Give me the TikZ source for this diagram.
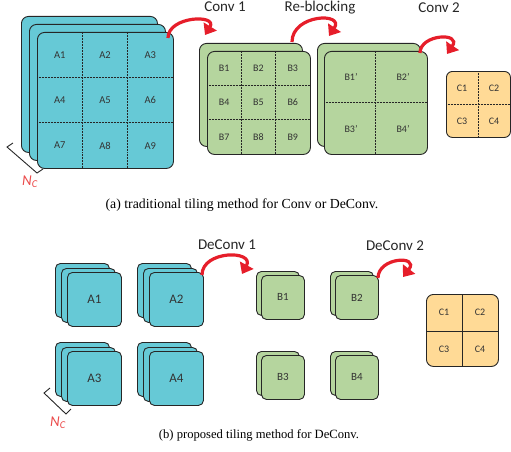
\documentclass[tikz,border=0pt]{standalone}
\usepackage{fontspec}
\setmainfont{Carlito}
\newfontfamily\capfont{Liberation Serif}
\usetikzlibrary{arrows.meta}
\definecolor{tealfill}{RGB}{102,201,214}
\definecolor{greenfill}{RGB}{181,213,158}
\definecolor{orangefill}{RGB}{255,218,150}
\definecolor{arrowred}{RGB}{230,30,42}
\definecolor{ncred}{RGB}{235,75,75}

\begin{document}
\begin{tikzpicture}[x=1pt, y=-1pt,
  map/.style = {draw=black!85, line width=0.9pt, rounded corners=7pt, inner sep=0pt, anchor=north west},
  amap/.style = {map, fill=tealfill},
  bmap/.style = {map, fill=greenfill},
  cmap/.style = {map, fill=orangefill},
  grid/.style = {black!85, line width=0.6pt, dash pattern=on 0.8pt off 0.7pt},
  lbl/.style = {font=\fontsize{10}{12}\selectfont, text=black!80},
  op/.style = {font=\fontsize{15}{18}\selectfont, text=black!85, anchor=base},
  curve/.style = {arrowred, line width=3.2pt, -{Triangle[width=15pt,length=10pt]}},
  nc/.style = {font=\fontsize{15}{18}\selectfont\itshape, text=ncred},
  caption/.style = {font=\capfont\fontsize{13.8}{16}\selectfont, anchor=base}]
\useasboundingbox (0,0) rectangle (511,452);

% (a) traditional tiling
\node[amap, minimum width=136pt, minimum height=136pt] (a1) at (21,16) {};
\node[amap, minimum width=136pt, minimum height=136pt] (a2) at (29,24) {};
\node[amap, minimum width=136pt, minimum height=136pt] (a3) at (37,32) {};
\draw[grid] (82.3,32) -- (82.3,168) (127.7,32) -- (127.7,168)
            (37,77.3) -- (173,77.3) (37,122.7) -- (173,122.7);
\foreach \n [count=\i from 0] in {A1,A2,A3,A4,A5,A6,A7,A8,A9}
  \node[lbl, font=\fontsize{10.5}{12}\selectfont] (lab\n) at ({59.7+45.3*mod(\i,3)}, {55+45.3*int(\i/3)}) {\n};

\node[bmap, minimum width=103pt, minimum height=103pt] (b1) at (199,43) {};
\node[bmap, minimum width=103pt, minimum height=103pt] (b2) at (207,51) {};
\draw[grid] (241.3,51) -- (241.3,154) (275.7,51) -- (275.7,154)
            (207,85.3) -- (310,85.3) (207,119.7) -- (310,119.7);
\foreach \n [count=\i from 0] in {B1,B2,B3,B4,B5,B6,B7,B8,B9}
  \node[lbl] (lab\n) at ({224.2+34.3*mod(\i,3)}, {68.2+34.3*int(\i/3)}) {\n};

\node[bmap, minimum width=103pt, minimum height=103pt] (r1) at (317,43) {};
\node[bmap, minimum width=103pt, minimum height=103pt] (r2) at (324,51) {};
\draw[grid] (375.5,51) -- (375.5,154) (324,102.5) -- (427,102.5);
\node[lbl] (labr1) at (351,77) {B1'};
\node[lbl] (labr2) at (403,77) {B2'};
\node[lbl] (labr3) at (351,129) {B3'};
\node[lbl] (labr4) at (403,129) {B4'};

\node[cmap, minimum width=64pt, minimum height=66pt, rounded corners=6pt] (c) at (446,71) {};
\draw[grid] (478.5,71) -- (478.5,137) (446,104) -- (510,104);
\node[lbl] (labc1) at (462,88) {C1};
\node[lbl] (labc2) at (494,88) {C2};
\node[lbl] (labc3) at (462,121) {C3};
\node[lbl] (labc4) at (494,121) {C4};

\coordinate (conv1from) at (168,38);
\coordinate (conv1to) at (205,35);
\coordinate (reblockfrom) at (292,42);
\coordinate (reblockto) at (329,36);
\coordinate (conv2from) at (420,53);
\coordinate (conv2to) at (447,54);
\draw[curve] (conv1from) .. controls (168,16) and (218,14) .. (conv1to);
\draw[curve] (reblockfrom) .. controls (292,14) and (345,12) .. (reblockto);
\draw[curve] (conv2from) .. controls (420,34) and (462,32) .. (conv2to);
\node[op] (conv1) at (225,12) {Conv 1};
\node[op] (reblock) at (320,12) {Re-blocking};
\node[op] (conv2) at (439,13) {Conv 2};

\draw[black!85, line width=0.9pt] (13,143) -- (7,147) -- (37,173) -- (43,169);
\node[nc] (nca) at (30,182) {N\textsubscript{C}};
\node[caption] (capa) at (242,208) {(a) traditional tiling method for Conv or DeConv.};

% (b) proposed tiling
\foreach \x/\y/\n in {55/263/A1, 137/263/A2, 55/342/A3, 137/342/A4} {
  \node[amap, minimum width=54pt, minimum height=54pt, rounded corners=5pt] (\n back) at (\x,\y) {};
  \node[amap, minimum width=54pt, minimum height=54pt, rounded corners=5pt] (\n mid) at (\x+6,\y+5) {};
  \node[amap, minimum width=54pt, minimum height=54pt, rounded corners=5pt] (\n front) at (\x+12,\y+9) {};
  \node[lbl, font=\fontsize{13}{15}\selectfont] (lab\n) at (\n front.center) {\n};
}
\foreach \x/\y/\n in {256/271/B1, 330/271/B2, 256/351/B3, 330/351/B4} {
  \node[bmap, minimum width=43pt, minimum height=44pt, rounded corners=5pt] (\n back) at (\x,\y) {};
  \node[bmap, minimum width=43pt, minimum height=44pt, rounded corners=5pt] (\n front) at (\x+5,\y+4) {};
  \node[lbl, font=\fontsize{11}{13}\selectfont] (lab\n) at (\n front.center) {\n};
}
\node[cmap, minimum width=72pt, minimum height=72pt] (cb) at (426,294) {};
\draw[black!85, line width=0.6pt] (462,294) -- (462,366) (426,331) -- (498,331);
\node[lbl] (labcb1) at (444,312) {C1};
\node[lbl] (labcb2) at (480,312) {C2};
\node[lbl] (labcb3) at (444,349) {C3};
\node[lbl] (labcb4) at (480,349) {C4};

\coordinate (deconv1from) at (202,275);
\coordinate (deconv1to) at (242,274);
\coordinate (deconv2from) at (378,278);
\coordinate (deconv2to) at (403,277);
\draw[curve] (deconv1from) .. controls (202,250) and (255,250) .. (deconv1to);
\draw[curve] (deconv2from) .. controls (378,257) and (420,255) .. (deconv2to);
\node[op] (deconv1) at (227,249) {DeConv 1};
\node[op] (deconv2) at (395,250) {DeConv 2};

\draw[black!85, line width=0.9pt] (50,388) -- (44,393) -- (66,414) -- (71,409);
\node[nc] (ncb) at (58,423) {N\textsubscript{C}};
\node[caption, font=\capfont\fontsize{12.6}{15}\selectfont] (capb) at (259,438) {(b) proposed tiling method for DeConv.};
\end{tikzpicture}
\end{document}
